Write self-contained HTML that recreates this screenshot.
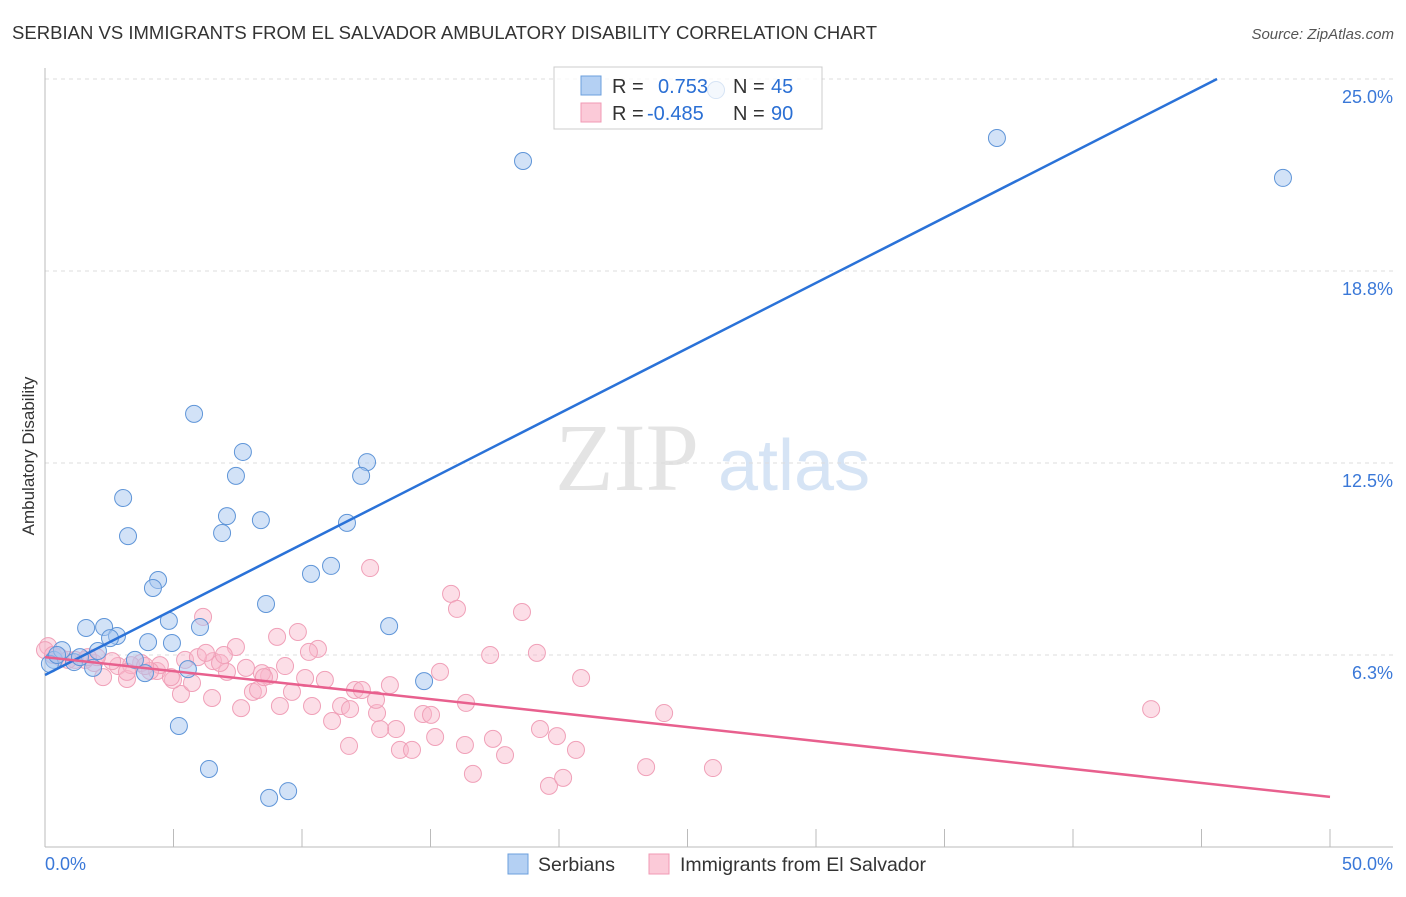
<!DOCTYPE html>
<html><head><meta charset="utf-8"><style>
body{margin:0;background:#fff;font-family:"Liberation Sans",sans-serif}
svg text{font-family:"Liberation Sans",sans-serif}
</style></head><body>
<svg id="chart" width="1406" height="892" xmlns="http://www.w3.org/2000/svg">
<text x="12" y="39" font-size="18.5" fill="#333" textLength="865">SERBIAN VS IMMIGRANTS FROM EL SALVADOR AMBULATORY DISABILITY CORRELATION CHART</text>
<text x="1394" y="39" font-size="15" fill="#555" font-style="italic" text-anchor="end">Source: ZipAtlas.com</text>
<g>
<text x="555" y="490" font-size="96" fill="#e4e4e4" font-family="Liberation Serif" style="font-family:'Liberation Serif',serif">ZIP</text>
<text x="718" y="490" font-size="72" fill="#d6e4f5">atlas</text>
</g>
<g id="grid"></g>
<g id="axes"></g>
<g id="marks"></g>
<text transform="translate(34,456) rotate(-90)" font-size="17" fill="#333" text-anchor="middle">Ambulatory Disability</text>
<g>
<rect x="554" y="67" width="268" height="62" fill="rgba(255,255,255,0.75)" stroke="#ccc"/>
<rect x="581" y="76" width="20" height="19" fill="#b4d0f3" stroke="#6b9fdc"/>
<rect x="581" y="103" width="20" height="19" fill="#fbcad8" stroke="#f09ab4"/>
<text x="612" y="93" font-size="20" fill="#333">R = </text><text x="658" y="93" font-size="20" fill="#2a6fd4">0.753</text>
<text x="733" y="93" font-size="20" fill="#333">N = </text><text x="771" y="93" font-size="20" fill="#2a6fd4">45</text>
<text x="612" y="120" font-size="20" fill="#333">R = </text><text x="647" y="120" font-size="20" fill="#2a6fd4">-0.485</text>
<text x="733" y="120" font-size="20" fill="#333">N = </text><text x="771" y="120" font-size="20" fill="#2a6fd4">90</text>
</g>
<g>
<rect x="508" y="854" width="20" height="20" fill="#b4d0f3" stroke="#6b9fdc"/>
<text x="538" y="871" font-size="19.5" fill="#333">Serbians</text>
<rect x="649" y="854" width="20" height="20" fill="#fbcad8" stroke="#f09ab4"/>
<text x="680" y="871" font-size="19.5" fill="#333">Immigrants from El Salvador</text>
</g>
</svg>
<script>
const yTicks=[6.25,12.5,18.75,25];
const yTickLabels=["6.3%","12.5%","18.8%","25.0%"];
const xTickVals=[0,5,10,15,20,25,30,35,40,45,50];
const xEndLabels=["0.0%","50.0%"];
const blueX=[18.6,37.04,48.17,26.11,5.8,7.7,7.43,3.04,12.53,12.3,7.08,8.4,11.75,6.89,3.23,11.13,10.35,4.4,4.2,8.6,13.39,4.82,6.03,1.6,2.3,2.8,2.53,4.01,4.94,2.06,3.5,5.56,3.89,1.87,1.13,0.35,0.19,0.66,1.36,14.75,5.21,6.38,8.72,9.46,0.47];
const blueY=[22.33,23.08,21.78,24.64,14.1,12.86,12.08,11.36,12.53,12.08,10.77,10.64,10.55,10.22,10.12,9.15,8.89,8.69,8.43,7.91,7.19,7.36,7.16,7.13,7.16,6.87,6.8,6.67,6.64,6.38,6.09,5.79,5.66,5.83,6.02,6.09,5.96,6.41,6.18,5.4,3.94,2.54,1.6,1.82,6.25];
const pinkX=[12.65,15.8,16.03,18.56,6.15,9.84,9.03,7.43,10.62,10.27,17.32,19.14,15.37,20.86,43.04,24.09,25.99,23.39,16.65,19.61,20.16,17.9,20.66,17.43,16.38,19.26,19.92,16.34,15.18,13.81,14.28,13.66,11.83,13.04,11.17,14.71,15.02,12.92,11.52,11.87,12.88,12.06,12.33,13.42,10.89,10.12,8.72,9.34,8.44,7.82,6.54,7.08,8.09,8.29,9.61,10.39,9.14,7.63,6.5,5.29,5.72,4.98,4.36,4.47,3.74,2.84,2.26,3.19,2.61,1.91,2.02,1.17,0.58,0.12,0.0,0.31,0.89,1.56,3.35,5.45,5.95,6.81,6.96,8.52,4.09,4.9,3.89,1.67,3.19,6.26];
const pinkY=[9.08,8.24,7.75,7.65,7.49,7.0,6.84,6.51,6.45,6.35,6.25,6.32,5.7,5.5,4.49,4.36,2.57,2.6,2.38,1.99,2.25,2.99,3.16,3.52,4.69,3.84,3.61,3.32,3.58,3.16,3.16,3.84,3.29,3.84,4.1,4.33,4.3,4.36,4.59,4.49,4.79,5.11,5.11,5.27,5.44,5.5,5.57,5.89,5.66,5.83,6.05,5.7,5.05,5.11,5.05,4.59,4.59,4.52,4.85,4.98,5.34,5.44,5.73,5.92,5.99,5.89,5.53,5.47,6.05,5.99,6.18,6.09,6.18,6.54,6.41,6.25,6.09,6.09,5.92,6.09,6.18,5.99,6.25,5.53,5.73,5.53,5.89,6.18,5.7,6.32];
const blueTrend=[5.6,0.4254];
const pinkTrend=[6.18,-0.091];
const NS="http://www.w3.org/2000/svg";
const X=v=>45+v*25.7;
const Y=v=>847-v*30.72;
function mk(tag,attrs,parent){const e=document.createElementNS(NS,tag);for(const k in attrs)e.setAttribute(k,attrs[k]);parent.appendChild(e);return e;}
const grid=document.getElementById('grid'),axes=document.getElementById('axes'),marks=document.getElementById('marks');
yTicks.forEach((t,i)=>{
 const l=mk('line',{x1:45,x2:1393,y1:Y(t),y2:Y(t),stroke:'#ddd','stroke-dasharray':'4,4'},grid);
 
 
 const tx=mk('text',{x:1393,y:Y(t)+24,'font-size':18,fill:'#3a78d8','text-anchor':'end'},axes);
 tx.textContent=yTickLabels[i];
 
 
});
const ax=mk('line',{x1:45,x2:45,y1:68,y2:847,stroke:'#bbb'},axes);


const bx=mk('line',{x1:45,x2:1393,y1:847,y2:847,stroke:'#bbb'},axes);


xTickVals.forEach(v=>{
 const t=mk('line',{x1:X(v),x2:X(v),y1:829,y2:847,stroke:'#bbb'},axes);
 
 
});
const xl0=mk('text',{x:45,y:870,'font-size':18,fill:'#3a78d8'},axes);xl0.textContent=xEndLabels[0];


const xl1=mk('text',{x:1393,y:870,'font-size':18,fill:'#3a78d8','text-anchor':'end'},axes);xl1.textContent=xEndLabels[1];


pinkX.forEach((x,i)=>{
 const c=mk('circle',{cx:X(x),cy:Y(pinkY[i]),r:8.5,fill:'rgba(248,182,202,0.45)',stroke:'#f0a0b8','stroke-width':1},marks);
 
 
});
blueX.forEach((x,i)=>{
 const c=mk('circle',{cx:X(x),cy:Y(blueY[i]),r:8.5,fill:'rgba(165,198,240,0.5)',stroke:'#5f95d8','stroke-width':1},marks);
 
 
});
const bEnd=(25-blueTrend[0])/blueTrend[1];
const bl=mk('line',{x1:X(0),y1:Y(blueTrend[0]),x2:X(bEnd),y2:Y(25),stroke:'#2a72d8','stroke-width':2.5},marks);


const pl=mk('line',{x1:X(0),y1:Y(pinkTrend[0]),x2:X(50),y2:Y(pinkTrend[0]+pinkTrend[1]*50),stroke:'#e8608e','stroke-width':2.5},marks);


</script>
</body></html>
